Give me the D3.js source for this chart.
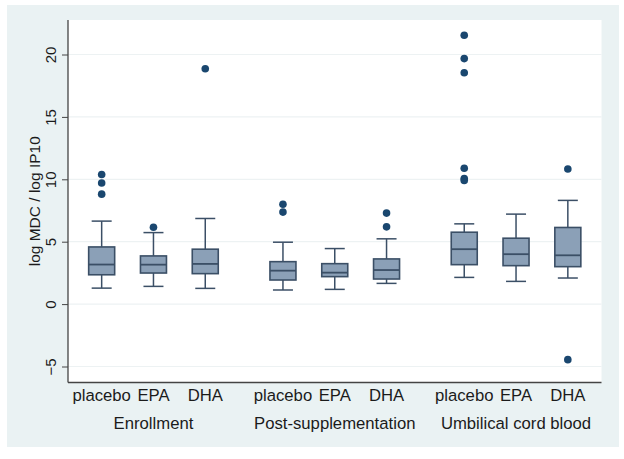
<!DOCTYPE html>
<html>
<head>
<meta charset="utf-8">
<script src="https://cdnjs.cloudflare.com/ajax/libs/d3/7.8.5/d3.min.js"></script>
<style>
  body { margin: 0; background: #fff; }
  svg text { font-family: "Liberation Sans", Arial, sans-serif; fill: #1b1b1b; }
</style>
</head>
<body>
<div id="chart"></div>
<script>
// groups and treatments
var groups = ["Enrollment", "Post-supplementation", "Umbilical cord blood"];
var treatments = ["placebo", "EPA", "DHA"];

// box stats, 9 boxes in order (group x treatment)
var whiskerLow  = [1.28, 1.42, 1.26,  1.13, 1.18, 1.66,  2.14, 1.82, 2.09];
var q1          = [2.35, 2.49, 2.44,  1.93, 2.20, 2.01,  3.16, 3.08, 3.00];
var median      = [3.17, 3.16, 3.22,  2.68, 2.52, 2.73,  4.40, 4.00, 3.91];
var q3          = [4.58, 3.86, 4.40,  3.40, 3.24, 3.62,  5.76, 5.28, 6.14];
var whiskerHigh = [6.65, 5.73, 6.86,  4.96, 4.45, 5.23,  6.43, 7.21, 8.31];
var outliers = [
  [10.39, 9.70, 8.81],
  [6.16],
  [18.86],
  [8.00, 7.37],
  [],
  [7.29, 6.19],
  [21.54, 19.67, 18.54, 10.88, 10.07, 9.91],
  [],
  [10.83, -4.45]
];

var yTicks = [-5, 0, 5, 10, 15, 20];

var width = 624, height = 459;
var plot = { left: 68, right: 601.5, top: 20, bottom: 382.5 };

var boxes = [];
groups.forEach(function(g, gi) {
  treatments.forEach(function(t, ti) {
    var i = gi * 3 + ti;
    boxes.push({
      group: g, treat: t, slot: gi * 3.5 + ti,
      lo: whiskerLow[i], q1: q1[i], med: median[i], q3: q3[i], hi: whiskerHigh[i],
      out: outliers[i]
    });
  });
});

var x = d3.scaleLinear().domain([-0.65, 9.65]).range([plot.left, plot.right]);
var y = d3.scaleLinear().domain([-5, 20]).range([366.5, 54.5]);

var svg = d3.select("#chart").append("svg")
  .attr("width", width)
  .attr("height", height);

// outer graph region
svg.append("rect")
  .attr("x", 7).attr("y", 5)
  .attr("width", 612).attr("height", 442)
  .attr("fill", "#eaf2f3");

// plot region
svg.append("rect")
  .attr("x", plot.left).attr("y", plot.top)
  .attr("width", plot.right - plot.left).attr("height", plot.bottom - plot.top)
  .attr("fill", "#ffffff");

// gridlines
svg.append("g").selectAll("line")
  .data(yTicks)
  .enter().append("line")
  .attr("x1", plot.left).attr("x2", plot.right)
  .attr("y1", function(d) { return y(d); })
  .attr("y2", function(d) { return y(d); })
  .attr("stroke", "#edf2f3")
  .attr("stroke-width", 1.2);

// y axis
var yAxis = d3.axisLeft(y).tickValues(yTicks).tickSize(6).tickSizeOuter(0);
var gy = svg.append("g")
  .attr("transform", "translate(" + plot.left + ",0)")
  .call(yAxis);
gy.select(".domain").remove();
gy.selectAll(".tick line").attr("stroke", "#444").attr("stroke-width", 1);
gy.selectAll(".tick text")
  .attr("x", 0).attr("dy", 0)
  .attr("transform", "translate(-12,0) rotate(-90)")
  .attr("text-anchor", "middle")
  .style("font-size", "15px")
  .style("font-family", "Liberation Sans, Arial, sans-serif")
  .style("fill", "#1b1b1b");

// axis lines (left and bottom)
svg.append("line")
  .attr("x1", plot.left).attr("x2", plot.left)
  .attr("y1", plot.top).attr("y2", plot.bottom)
  .attr("stroke", "#444").attr("stroke-width", 1.3);
svg.append("line")
  .attr("x1", plot.left).attr("x2", plot.right)
  .attr("y1", plot.bottom).attr("y2", plot.bottom)
  .attr("stroke", "#444").attr("stroke-width", 1.3);

// y title
svg.append("text")
  .attr("transform", "translate(40," + ((plot.top + plot.bottom) / 2) + ") rotate(-90)")
  .attr("text-anchor", "middle")
  .style("font-size", "15.5px")
  .text("log MDC / log IP10");

// boxes
var boxW = 26, capW = 20;
var stroke = "#3b4f66";
var bg = svg.append("g").selectAll("g")
  .data(boxes)
  .enter().append("g")
  .attr("transform", function(d) { return "translate(" + x(d.slot) + ",0)"; });

bg.append("line")
  .attr("x1", 0).attr("x2", 0)
  .attr("y1", function(d) { return y(d.hi); })
  .attr("y2", function(d) { return y(d.q3); })
  .attr("stroke", stroke).attr("stroke-width", 1.5);
bg.append("line")
  .attr("x1", 0).attr("x2", 0)
  .attr("y1", function(d) { return y(d.q1); })
  .attr("y2", function(d) { return y(d.lo); })
  .attr("stroke", stroke).attr("stroke-width", 1.5);
bg.append("line")
  .attr("x1", -capW / 2).attr("x2", capW / 2)
  .attr("y1", function(d) { return y(d.hi); })
  .attr("y2", function(d) { return y(d.hi); })
  .attr("stroke", stroke).attr("stroke-width", 1.5);
bg.append("line")
  .attr("x1", -capW / 2).attr("x2", capW / 2)
  .attr("y1", function(d) { return y(d.lo); })
  .attr("y2", function(d) { return y(d.lo); })
  .attr("stroke", stroke).attr("stroke-width", 1.5);
bg.append("rect")
  .attr("x", -boxW / 2).attr("width", boxW)
  .attr("y", function(d) { return y(d.q3); })
  .attr("height", function(d) { return y(d.q1) - y(d.q3); })
  .attr("fill", "#8ba0b7")
  .attr("stroke", stroke).attr("stroke-width", 1.6);
bg.append("line")
  .attr("x1", -boxW / 2).attr("x2", boxW / 2)
  .attr("y1", function(d) { return y(d.med); })
  .attr("y2", function(d) { return y(d.med); })
  .attr("stroke", stroke).attr("stroke-width", 1.8);

bg.selectAll("circle")
  .data(function(d) { return d.out; })
  .enter().append("circle")
  .attr("cx", 0)
  .attr("cy", function(v) { return y(v); })
  .attr("r", 3.8)
  .attr("fill", "#1a476f");

// x labels
svg.append("g").selectAll("text")
  .data(boxes)
  .enter().append("text")
  .attr("x", function(d) { return x(d.slot); })
  .attr("y", 401)
  .attr("text-anchor", "middle")
  .style("font-size", "16.7px")
  .text(function(d) { return d.treat; });

svg.append("g").selectAll("text")
  .data(groups)
  .enter().append("text")
  .attr("x", function(d, i) { return x(i * 3.5 + 1); })
  .attr("y", 429)
  .attr("text-anchor", "middle")
  .style("font-size", "16.7px")
  .text(function(d) { return d; });
</script>
</body>
</html>
